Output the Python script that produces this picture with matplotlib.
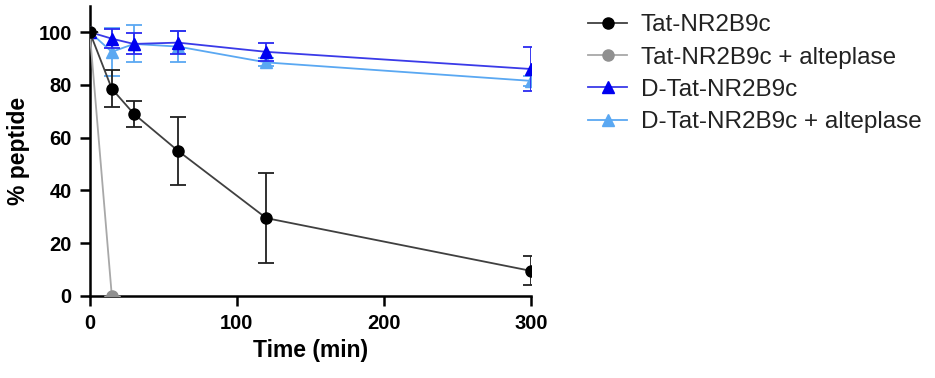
import matplotlib
matplotlib.use('Agg')
import matplotlib.pyplot as plt
from matplotlib.lines import Line2D

plt.rcParams['font.family'] = ['Liberation Sans', 'DejaVu Sans']

# time points (min)
t_tat = [0, 15, 30, 60, 120, 300]
t_alt = [0, 15]

# % peptide remaining, mean and error
tat = [100, 78.5, 69, 55, 29.5, 9.5]
tat_err = [0, 7, 5, 13, 17, 5.5]
tat_alt = [100, 0]
tat_alt_err = [0, 0]
dtat = [100, 97.5, 95.5, 96, 92.5, 86]
dtat_err = [0, 3.5, 4, 4.5, 3.5, 8.5]
dtat_alt = [100, 92.5, 95.5, 94.5, 88.5, 81.5]
dtat_alt_err = [0, 9, 7, 6, 1.5, 2]

labels = ['Tat-NR2B9c', 'Tat-NR2B9c + alteplase', 'D-Tat-NR2B9c', 'D-Tat-NR2B9c + alteplase']

fig = plt.figure(figsize=(9.35, 3.78), dpi=100)
ax = fig.add_axes([0.096, 0.217, 0.472, 0.768])

# series style: line colour, marker colour, marker
styles = [('#404040', 'black', 'o'), ('#a8a8a8', '#909090', 'o'),
          ('#3a3ae8', '#0000f0', '^'), ('#5aa8f2', '#5aa8f2', '^')]

# draw back to front
ax.errorbar(t_tat, dtat_alt, yerr=dtat_alt_err, color=styles[3][0], mfc=styles[3][1], mec=styles[3][1],
            marker='^', ms=8, lw=1.3, capsize=6, elinewidth=1.3, capthick=1.3, zorder=3)
ax.errorbar(t_tat, dtat, yerr=dtat_err, color=styles[2][0], ecolor='#2a2af0', mfc=styles[2][1], mec=styles[2][1],
            marker='^', ms=8, lw=1.3, capsize=6, elinewidth=1.3, capthick=1.3, zorder=4)
ax.errorbar(t_alt, tat_alt, yerr=tat_alt_err, color=styles[1][0], mfc=styles[1][1], mec=styles[1][1],
            marker='o', ms=8, lw=1.3, capsize=6, zorder=5)
ax.errorbar(t_tat, tat, yerr=tat_err, color=styles[0][0], ecolor='#202020', mfc=styles[0][1], mec=styles[0][1],
            marker='o', ms=8, lw=1.3, capsize=6, elinewidth=1.3, capthick=1.3, zorder=6)

ax.set_xlim(0, 300)
ax.set_ylim(0, 110)
ax.set_xticks([0, 100, 200, 300])
ax.set_yticks([0, 20, 40, 60, 80, 100])
ax.spines['top'].set_visible(False)
ax.spines['right'].set_visible(False)
for s in ['left', 'bottom']:
    ax.spines[s].set_linewidth(1.8)
ax.tick_params(direction='out', length=7, width=1.8, labelsize=14.5, pad=6)
for lab in ax.get_xticklabels() + ax.get_yticklabels():
    lab.set_fontweight('bold')

ax.set_xlabel('Time (min)', fontsize=16.5, fontweight='bold', labelpad=4)
ax.set_ylabel('% peptide', fontsize=16.5, fontweight='bold', labelpad=6)

handles = [Line2D([], [], color=c, mfc=m, mec=m, marker=mk, ms=8, lw=1.3) for c, m, mk in styles]
leg = ax.legend(handles, labels, loc='upper left',
                bbox_to_anchor=(1.08, 1.045), frameon=False, fontsize=17.5,
                handlelength=1.6, labelspacing=0.42, handletextpad=0.55)
for txt in leg.get_texts():
    txt.set_color('#222222')

fig.savefig('out.png', dpi=100)
